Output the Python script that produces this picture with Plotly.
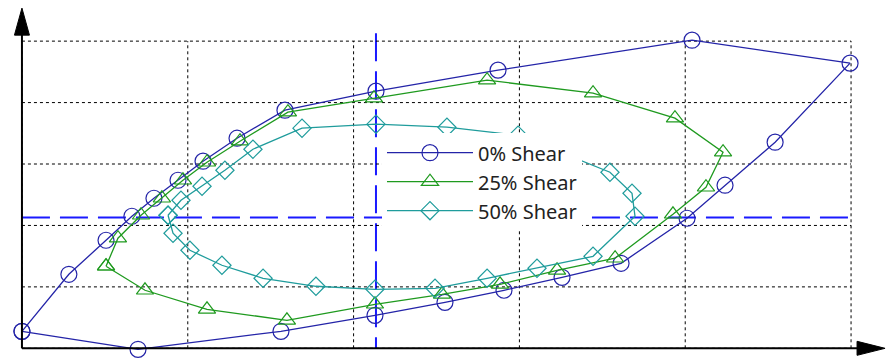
import plotly.graph_objects as go

# ---- data (grid units) ----
names = ["0% Shear", "25% Shear", "50% Shear"]

x_shear0 = [0.000, 0.283, 0.507, 0.663, 0.796, 0.941, 1.092, 1.297, 1.586, 2.135, 2.871, 4.041,
            4.994, 4.542, 4.240, 4.011, 3.613, 3.257, 2.907, 2.551, 2.129, 1.562, 0.700, 0.000]
y_shear0 = [0.277, 1.205, 1.759, 2.150, 2.443, 2.736, 3.046, 3.420, 3.876, 4.186, 4.528, 5.016,
            4.642, 3.355, 2.655, 2.117, 1.384, 1.156, 0.945, 0.749, 0.537, 0.277, -0.016, 0.277]

x_shear25 = [0.507, 0.742, 1.116, 1.598, 2.129, 2.533, 2.883, 3.227, 3.577, 3.926, 4.125, 4.228,
             3.938, 3.444, 2.805, 2.123, 1.604, 1.315, 1.116, 0.971, 0.844, 0.718, 0.579, 0.507]
y_shear25 = [1.336, 0.945, 0.635, 0.456, 0.717, 0.879, 1.042, 1.270, 1.466, 2.182, 2.622, 3.192,
             3.746, 4.153, 4.365, 4.072, 3.844, 3.371, 3.029, 2.736, 2.443, 2.166, 1.792, 1.336]

x_shear50 = [0.881, 0.911, 1.013, 1.206, 1.454, 1.773, 2.129, 2.491, 2.805, 3.106, 3.444, 3.697,
             3.679, 3.546, 2.992, 2.563, 2.135, 1.689, 1.393, 1.224, 1.086, 0.959, 0.881]
y_shear50 = [2.166, 1.873, 1.596, 1.352, 1.140, 1.010, 0.961, 0.977, 1.140, 1.303, 1.498, 2.150,
             2.524, 2.866, 3.469, 3.599, 3.648, 3.583, 3.241, 2.899, 2.638, 2.410, 2.166]

center_x = 2.135
center_y = 2.13
x_ticks = [0, 1, 2, 3, 4, 5]
y_ticks = [0, 1, 2, 3, 4, 5]

# ---- styles / layout geometry ----
colors = ["#2424a8", "#1f9a1f", "#1f9c9c"]
symbols = ["circle-open", "triangle-up-open", "diamond-open"]
sizes = [16, 15, 14]

W, H = 887, 358
X0PX, Y0PX = 22, 348          # pixel position of grid origin
UX, UY = 165.8, 61.4          # pixels per grid unit
XR = [-0.06, 5.06]
YR = [-0.06, 5.10]
ML = X0PX + XR[0] * UX
MR = W - (X0PX + XR[1] * UX)
MT = Y0PX - YR[1] * UY
MB = H - (Y0PX - YR[0] * UY)
PW, PH = W - ML - MR, H - MT - MB


def pxp(v):
    return (v - ML) / PW


def pyp(v):
    return (H - MB - v) / PH


fig = go.Figure()
series = [(x_shear0, y_shear0), (x_shear25, y_shear25), (x_shear50, y_shear50)]
for (xs, ys), name, c, s, sz in zip(series, names, colors, symbols, sizes):
    fig.add_trace(go.Scatter(
        x=xs, y=ys, name=name, mode="lines+markers",
        line=dict(color=c, width=1.3),
        marker=dict(symbol=s, size=sz, color=c, line=dict(color=c, width=1.2)),
        cliponaxis=False,
    ))

shapes = []
grid_line = dict(color="black", width=1, dash="3px,3px")
for xv in x_ticks:
    shapes.append(dict(type="line", xref="x", yref="y", x0=xv, x1=xv,
                       y0=y_ticks[0], y1=y_ticks[-1], line=grid_line, layer="below"))
for yv in y_ticks:
    shapes.append(dict(type="line", xref="x", yref="y", x0=x_ticks[0], x1=x_ticks[-1],
                       y0=yv, y1=yv, line=grid_line, layer="below"))
# blue dashed centre lines
blue = dict(color="#1a1aff", width=2, dash="28px,10px")
shapes.append(dict(type="line", xref="x", yref="paper", x0=center_x, x1=center_x,
                   y0=pyp(33), y1=pyp(Y0PX), line=blue, layer="below"))
shapes.append(dict(type="line", xref="x", yref="y", x0=x_ticks[0], x1=x_ticks[-1],
                   y0=center_y, y1=center_y, line=blue, layer="below"))
# axis lines with arrows
shapes.append(dict(type="line", xref="paper", yref="paper", x0=pxp(X0PX), x1=pxp(X0PX),
                   y0=pyp(Y0PX), y1=pyp(34), line=dict(color="black", width=2)))
shapes.append(dict(type="line", xref="paper", yref="paper", x0=pxp(X0PX), x1=pxp(858),
                   y0=pyp(Y0PX), y1=pyp(Y0PX), line=dict(color="black", width=2)))
shapes.append(dict(type="path", xref="paper", yref="paper",
                   path=(f"M {pxp(X0PX - 7.5)},{pyp(35)} L {pxp(X0PX + 7.5)},{pyp(35)} "
                         f"L {pxp(X0PX)},{pyp(8)} Z"),
                   fillcolor="black", line=dict(color="black", width=1)))
shapes.append(dict(type="path", xref="paper", yref="paper",
                   path=(f"M {pxp(857)},{pyp(Y0PX - 7)} L {pxp(857)},{pyp(Y0PX + 7)} "
                         f"L {pxp(885)},{pyp(Y0PX)} Z"),
                   fillcolor="black", line=dict(color="black", width=1)))

fig.update_layout(
    width=W, height=H,
    margin=dict(l=ML, r=MR, t=MT, b=MB, pad=0),
    paper_bgcolor="white", plot_bgcolor="white",
    shapes=shapes,
    showlegend=True,
    legend=dict(
        x=pxp(382), y=pyp(133), xanchor="left", yanchor="top",
        bgcolor="white", borderwidth=0,
        font=dict(family="Noto Sans", size=20, color="#222222"),
        itemwidth=86,
    ),
    xaxis=dict(range=XR, showticklabels=False, ticks="", showgrid=False,
               zeroline=False, showline=False),
    yaxis=dict(range=YR, showticklabels=False, ticks="", showgrid=False,
               zeroline=False, showline=False),
)

fig.write_html("out.html")
